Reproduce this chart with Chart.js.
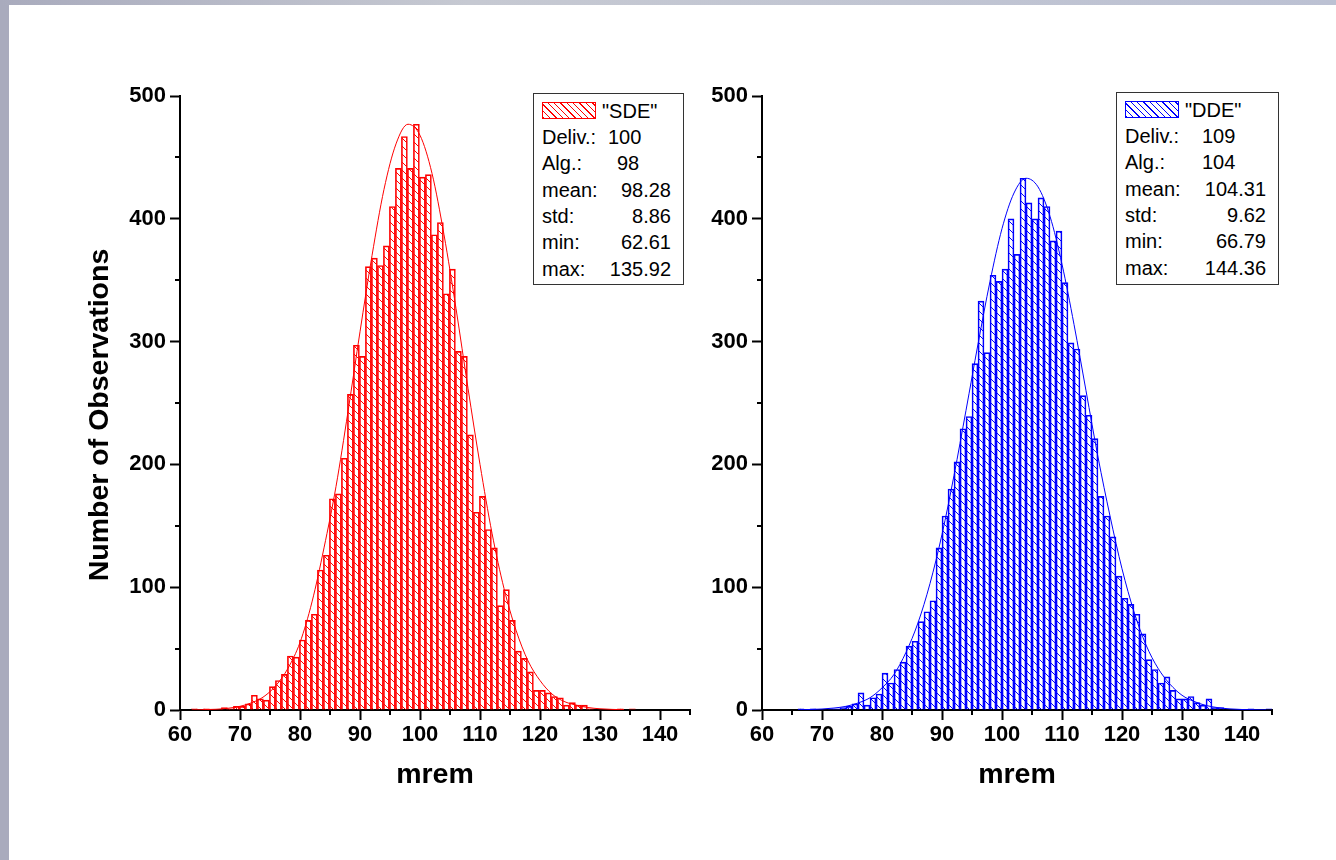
<!DOCTYPE html>
<html>
<head>
<meta charset="utf-8">
<script src="https://cdn.jsdelivr.net/npm/chart.js@4.4.1/dist/chart.umd.min.js"></script>
<style>
  body { margin: 0; width: 1336px; height: 860px; background: #fff; position: relative; overflow: hidden;
         font-family: "Liberation Sans", Arial, sans-serif; }
  #stripL { position: absolute; left: 0; top: 0; width: 9px; height: 860px; background: #a9abbd; }
  #stripT { position: absolute; left: 0; top: 0; width: 1336px; height: 5px;
            background: linear-gradient(to right, #a9abbd, #c6c9d2 35%, #bcc1d3); }
  canvas { position: absolute; top: 0; }
  #sde { left: 0; }
  #dde { left: 700px; }
  .box { position: absolute; border: 1px solid #333; background: #fff; box-sizing: border-box; }
  .sw { position: absolute; box-sizing: border-box; }
  .lg { position: absolute; font-size: 20px; line-height: 20px; color: #000; white-space: nowrap; }
</style>
</head>
<body>
<div id="stripL"></div>
<div id="stripT"></div>
<canvas id="sde" width="720" height="860"></canvas>
<canvas id="dde" width="636" height="860"></canvas>

<script>
// ---- SDE histogram (bin centres, counts) ----
const sdeBins = [62.4, 64.4, 67.4, 68.4, 69.4, 70.4, 71.4, 72.4, 73.4, 74.4, 75.4, 76.4, 77.4, 78.4, 79.4,
  80.4, 81.4, 82.4, 83.4, 84.4, 85.4, 86.4, 87.4, 88.4, 89.4, 90.4, 91.4, 92.4, 93.4, 94.4, 95.4, 96.4,
  97.4, 98.4, 99.4, 100.4, 101.4, 102.4, 103.4, 104.4, 105.4, 106.4, 107.4, 108.4, 109.4, 110.4, 111.4,
  112.4, 113.4, 114.4, 115.4, 116.4, 117.4, 118.4, 119.4, 120.4, 121.4, 122.4, 123.4, 124.4, 125.4,
  126.4, 127.4, 128.4, 133.4, 135.4];
const sdeCounts = [1, 1, 2, 1, 3, 3, 5, 12, 9, 8, 19, 24, 29, 44, 43,
  57, 73, 78, 114, 126, 172, 176, 205, 257, 297, 288, 361, 368, 362, 378, 410, 441,
  467, 441, 477, 434, 436, 387, 397, 339, 359, 292, 288, 224, 161, 174, 147,
  132, 85, 98, 73, 48, 42, 31, 16, 16, 14, 11, 10, 4, 6,
  4, 4, 1, 1, 1];
// fitted curve
const sdeFitX = [62, 64, 66, 68, 70, 72, 74, 76, 78, 80, 82, 84, 86, 88, 90, 92, 94, 96, 98, 100,
  102, 104, 106, 108, 110, 112, 114, 116, 118, 120, 122, 124, 126, 128, 130, 132, 134];
const sdeFitY = [0, 0.3, 0.6, 1.4, 3, 6, 11, 20, 34, 55, 88, 132, 182, 243, 308, 370, 424, 461, 477, 468,
  437, 387, 327, 262, 200, 144, 99, 65, 40, 24, 13, 7, 4, 2, 1, 0.5, 0.2];

// ---- DDE histogram ----
const ddeBins = [66.5, 68.5, 71.5, 72.5, 73.5, 74.5, 75.5, 76.5, 77.5, 78.5, 79.5, 80.5, 81.5, 82.5,
  83.5, 84.5, 85.5, 86.5, 87.5, 88.5, 89.5, 90.5, 91.5, 92.5, 93.5, 94.5, 95.5, 96.5, 97.5, 98.5,
  99.5, 100.5, 101.5, 102.5, 103.5, 104.5, 105.5, 106.5, 107.5, 108.5, 109.5, 110.5, 111.5, 112.5,
  113.5, 114.5, 115.5, 116.5, 117.5, 118.5, 119.5, 120.5, 121.5, 122.5, 123.5, 124.5, 125.5, 126.5,
  127.5, 128.5, 129.5, 130.5, 131.5, 132.5, 133.5, 134.5, 135.5, 136.5, 141.5, 144.5];
const ddeCounts = [1, 1, 1, 1, 2, 3, 5, 14, 4, 10, 13, 30, 22, 33,
  39, 52, 56, 72, 80, 89, 132, 158, 180, 202, 229, 239, 282, 333, 291, 354,
  349, 359, 400, 371, 433, 413, 400, 417, 410, 382, 390, 348, 299, 294,
  256, 240, 221, 174, 158, 141, 109, 91, 86, 78, 62, 41, 33, 22,
  27, 16, 9, 9, 11, 6, 4, 9, 2, 2, 1, 1];
const ddeFitX = [66, 68, 70, 72, 74, 76, 78, 80, 82, 84, 86, 88, 90, 92, 94, 96, 98, 100, 102, 104,
  106, 108, 110, 112, 114, 116, 118, 120, 122, 124, 126, 128, 130, 132, 134, 136, 138, 140, 142, 144];
const ddeFitY = [0.2, 0.4, 0.8, 1.6, 3, 5.7, 10, 18, 29, 47, 71, 103, 143, 191, 244, 298, 349, 392, 421, 433,
  426, 402, 363, 314, 260, 206, 158, 115, 80, 53, 34, 21, 12, 7, 3.7, 1.9, 0.9, 0.4, 0.2, 0.1];

// ---- legend texts ----
const statNames = ['Deliv.:', 'Alg.:', 'mean:', 'std:', 'min:', 'max:'];
const sdeStats = ['100', '98', '98.28', '8.86', '62.61', '135.92'];
const ddeStats = ['109', '104', '104.31', '9.62', '66.79', '144.36'];

// x / y tick layout
const xTickStep = 5, xLabelStep = 10;
const yTickStep = 50, yLabelStep = 100;

const fontFamily = '"Liberation Sans", Arial, sans-serif';
const tickFont = { family: fontFamily, size: 22, weight: 'bold' };
const titleFont = { family: fontFamily, size: 28.5, weight: 'bold' };

function hatch(color) {
  const c = document.createElement('canvas');
  c.width = 8; c.height = 8;
  const g = c.getContext('2d');
  g.strokeStyle = color;
  g.lineWidth = 1;
  g.beginPath();
  g.moveTo(-1, -1); g.lineTo(9, 9);
  g.moveTo(7, -1); g.lineTo(9, 1);
  g.moveTo(-1, 7); g.lineTo(1, 9);
  g.stroke();
  return g.createPattern(c, 'repeat');
}

// short ticks between the labelled ones, plus the rotated y title
const axisExtras = {
  id: 'axisExtras',
  afterDraw(chart, args, opts) {
    const ctx = chart.ctx;
    const { x, y } = chart.scales;
    ctx.save();
    ctx.strokeStyle = '#000';
    ctx.lineWidth = 2;
    ctx.beginPath();
    x.ticks.forEach(t => {
      if (t.value % xLabelStep !== 0) {
        const px = Math.round(x.getPixelForValue(t.value));
        ctx.moveTo(px, x.top); ctx.lineTo(px, x.top + 5);
      }
    });
    y.ticks.forEach(t => {
      if (t.value % yLabelStep !== 0) {
        const py = Math.round(y.getPixelForValue(t.value));
        ctx.moveTo(y.right - 5, py); ctx.lineTo(y.right, py);
      }
    });
    ctx.stroke();
    if (opts.yTitle) {
      ctx.translate(100, 415);
      ctx.rotate(-Math.PI / 2);
      ctx.font = 'bold 28.5px ' + fontFamily;
      ctx.fillStyle = '#000';
      ctx.textAlign = 'center';
      ctx.textBaseline = 'middle';
      ctx.fillText(opts.yTitle, 0, 0);
    }
    ctx.restore();
  }
};

function makeChart(id, bins, counts, fitX, fitY, color, pad, yWidth, yTitle) {
  return new Chart(document.getElementById(id), {
    type: 'bar',
    data: {
      datasets: [
        {
          type: 'line',
          data: fitX.map((v, i) => ({ x: v, y: fitY[i] })),
          borderColor: color,
          borderWidth: 1,
          pointRadius: 0,
          cubicInterpolationMode: 'monotone',
          order: 0
        },
        {
          type: 'bar',
          data: bins.map((v, i) => ({ x: v, y: counts[i] })),
          backgroundColor: hatch(color),
          borderColor: color,
          borderWidth: 1,
          barPercentage: 1,
          categoryPercentage: 1,
          order: 1
        }
      ]
    },
    options: {
      responsive: false,
      animation: false,
      layout: { padding: pad },
      plugins: { legend: { display: false }, tooltip: { enabled: false }, axisExtras: { yTitle: yTitle } },
      scales: {
        x: {
          type: 'linear',
          min: 60,
          max: 145,
          offset: false,
          grid: {
            offset: false,
            drawOnChartArea: false,
            tickLength: 10,
            tickWidth: 2,
            tickColor: c => (c.tick && c.tick.value % xLabelStep === 0) ? '#000' : 'rgba(0,0,0,0)'
          },
          border: { color: '#000', width: 2 },
          ticks: {
            stepSize: xTickStep,
            autoSkip: false,
            maxRotation: 0,
            color: '#000',
            padding: 2,
            font: tickFont,
            callback: v => (v % xLabelStep === 0 ? v : '')
          },
          title: { display: true, text: 'mrem', color: '#000', font: titleFont, padding: { top: 0, bottom: 8 } },
          afterFit: s => { s.height = 90; }
        },
        y: {
          min: 0,
          max: 500,
          grid: {
            drawOnChartArea: false,
            tickLength: 10,
            tickWidth: 2,
            tickColor: c => (c.tick && c.tick.value % yLabelStep === 0) ? '#000' : 'rgba(0,0,0,0)'
          },
          border: { color: '#000', width: 2 },
          ticks: {
            stepSize: yTickStep,
            autoSkip: false,
            color: '#000',
            padding: 4,
            font: tickFont,
            callback: v => (v % yLabelStep === 0 ? v : '')
          },
          afterFit: s => { s.width = yWidth; }
        }
      }
    },
    plugins: [axisExtras]
  });
}

makeChart('sde', sdeBins, sdeCounts, sdeFitX, sdeFitY, '#ff0000',
  { left: 80, right: 30, top: 96, bottom: 60 }, 100, 'Number of Observations');
makeChart('dde', ddeBins, ddeCounts, ddeFitX, ddeFitY, '#0000ff',
  { left: 2, right: 64, top: 96, bottom: 60 }, 60, null);

// ---- legend boxes ----
function addEl(cls, css, text) {
  const d = document.createElement('div');
  d.className = cls;
  Object.assign(d.style, css);
  if (text !== undefined) d.textContent = text;
  document.body.appendChild(d);
  return d;
}

function legend(box, color, name, stats, valLeftX, valRightX) {
  addEl('box', { left: box.x + 'px', top: box.y + 'px', width: box.w + 'px', height: box.h + 'px' });
  const sx = box.x + 9, sy = box.y + 9;
  addEl('sw', {
    left: sx + 'px', top: sy + 'px', width: '54px', height: '17px',
    border: '1px solid ' + color,
    background: 'repeating-linear-gradient(45deg, ' + color + ' 0px, ' + color + ' 1px, #fff 1px, #fff 4.5px)'
  });
  const rowH = 26.3;
  addEl('lg', { left: (sx + 60) + 'px', top: (sy - 1) + 'px' }, '"' + name + '"');
  statNames.forEach((n, i) => {
    const top = (sy + 25 + rowH * i) + 'px';
    addEl('lg', { left: sx + 'px', top: top }, n);
    if (i < 2) {
      addEl('lg', { left: valLeftX[i] + 'px', top: top }, stats[i]);
    } else {
      addEl('lg', { right: (1336 - valRightX) + 'px', top: top }, stats[i]);
    }
  });
}

legend({ x: 533, y: 93, w: 151, h: 192 }, '#ff0000', 'SDE', sdeStats, [608, 617], 671);
legend({ x: 1116, y: 92, w: 163, h: 193 }, '#0000ff', 'DDE', ddeStats, [1202, 1202], 1266);
</script>
</body>
</html>
